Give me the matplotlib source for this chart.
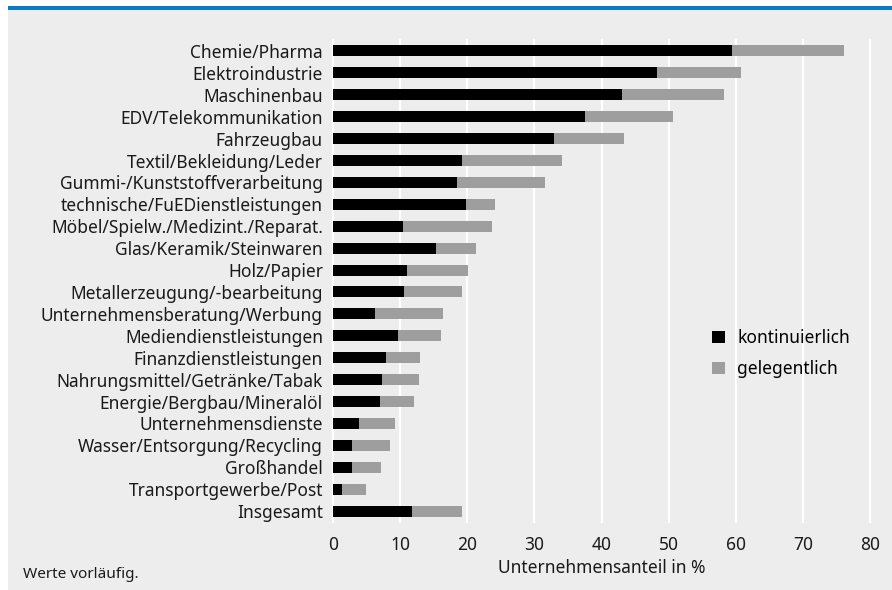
import numpy as np
import matplotlib
matplotlib.use("Agg")
import matplotlib.pyplot as plt
from matplotlib.patches import Rectangle

plt.rcParams['font.family'] = ['Noto Sans', 'DejaVu Sans']

# Branchen, von oben nach unten
branchen = ["Chemie/Pharma", "Elektroindustrie", "Maschinenbau", "EDV/Telekommunikation",
            "Fahrzeugbau", "Textil/Bekleidung/Leder", "Gummi-/Kunststoffverarbeitung",
            "technische/FuEDienstleistungen", "Möbel/Spielw./Medizint./Reparat.",
            "Glas/Keramik/Steinwaren", "Holz/Papier", "Metallerzeugung/-bearbeitung",
            "Unternehmensberatung/Werbung", "Mediendienstleistungen", "Finanzdienstleistungen",
            "Nahrungsmittel/Getränke/Tabak", "Energie/Bergbau/Mineralöl", "Unternehmensdienste",
            "Wasser/Entsorgung/Recycling", "Großhandel", "Transportgewerbe/Post", "Insgesamt"]
kontinuierlich = [59.4, 48.3, 43.1, 37.5, 32.9, 19.3, 18.5, 19.8, 10.4, 15.4, 11.0,
                  10.6, 6.3, 9.7, 7.9, 7.4, 7.0, 3.9, 2.9, 2.9, 1.4, 11.8]
gelegentlich = [16.7, 12.5, 15.1, 13.1, 10.4, 14.8, 13.1, 4.3, 13.3, 5.9, 9.1,
                8.7, 10.1, 6.4, 5.1, 5.4, 5.1, 5.3, 5.6, 4.3, 3.5, 7.5]
xticks = [0, 10, 20, 30, 40, 50, 60, 70, 80]

W, H = 892, 590
bg = '#ededed'
fig = plt.figure(figsize=(W / 100, H / 100), dpi=100, facecolor=bg)

# weisser Rand links/oben + blaue Linie
fig.add_artist(Rectangle((0, 0), 8 / W, 1, transform=fig.transFigure,
                         facecolor='white', edgecolor='none'))
fig.add_artist(Rectangle((0, 1 - 7 / H), 1, 7 / H, transform=fig.transFigure,
                         facecolor='white', edgecolor='none'))
fig.add_artist(Rectangle((8 / W, 1 - 9.5 / H), 1 - 8 / W, 3 / H, transform=fig.transFigure,
                         facecolor='#0b7bc3', edgecolor='none'))

ax = fig.add_axes([332.7 / W, 1 - 522 / H, (870.4 - 332.7) / W, (522 - 40) / H])
ax.set_facecolor(bg)

y = np.arange(len(branchen))
ax.barh(y, kontinuierlich, height=0.5, color='black', label='kontinuierlich', zorder=3)
ax.barh(y, gelegentlich, left=kontinuierlich, height=0.5, color='#9d9e9d',
        label='gelegentlich', zorder=3)

ax.set_xlim(0, 80)
ax.set_ylim(21.5, -0.5)
ax.set_yticks(y)
ax.set_yticklabels(branchen, fontsize=12.5, color='#1a1a1a')
ax.set_xticks(xticks)
ax.set_xticklabels([str(t) for t in xticks], fontsize=12.5, color='#1a1a1a')
ax.tick_params(axis='both', length=0)
ax.tick_params(axis='y', pad=7)
ax.tick_params(axis='x', pad=10)
for s in ax.spines.values():
    s.set_visible(False)
for t in xticks:
    ax.axvline(t, color='white', lw=1.6, zorder=1, clip_on=False)

ax.set_xlabel('Unternehmensanteil in %', fontsize=12.5, color='#1a1a1a', labelpad=4)

ax.legend(loc='upper left', bbox_to_anchor=(712 / W, 1 - 329 / H), bbox_transform=fig.transFigure,
          frameon=False, fontsize=12.5, handlelength=0.75, handleheight=0.75,
          handletextpad=0.7, labelspacing=0.75, borderpad=0, borderaxespad=0)

fig.text(23 / W, 1 - 574 / H, 'Werte vorläufig.', fontsize=11, color='#1a1a1a', va='center')

fig.savefig('out.png', dpi=100, facecolor=fig.get_facecolor())
